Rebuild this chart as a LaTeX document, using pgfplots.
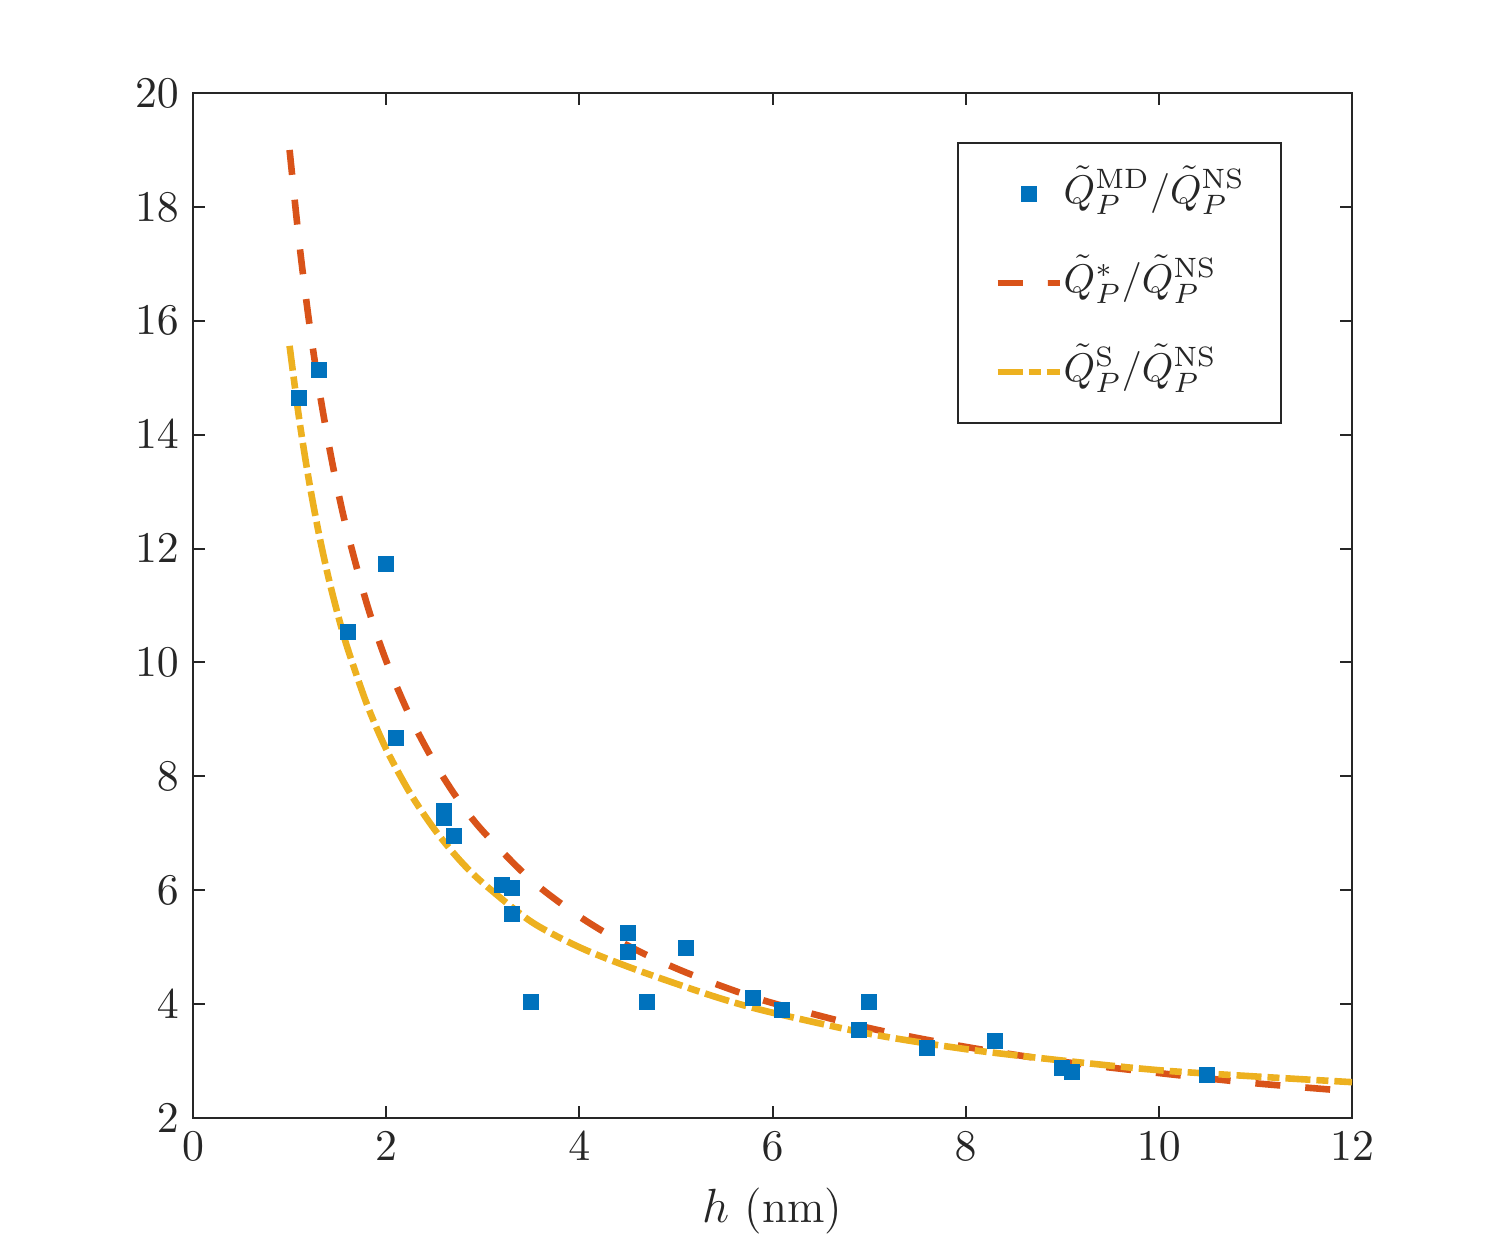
\documentclass[border=0pt]{standalone}
\usepackage{pgfplots}
\pgfplotsset{compat=1.18}
\definecolor{mblue}{rgb}{0,0.447,0.741}
\definecolor{mred}{rgb}{0.85,0.325,0.098}
\definecolor{myellow}{rgb}{0.929,0.694,0.125}
\definecolor{axgray}{rgb}{0.15,0.15,0.15}
\begin{document}
\begin{tikzpicture}
\useasboundingbox (-48.25pt,-35pt) rectangle (325.25pt,279.5pt);
\begin{axis}[
  scale only axis, width=289.75pt, height=256.25pt,
  xmin=0, xmax=12, ymin=2, ymax=20,
  xtick={0,2,...,12}, ytick={2,4,...,20},
  tick align=inside, major tick length=3pt,
  axis line style={axgray, line width=0.5pt},
  every tick/.style={axgray, line width=0.5pt},
  tick label style={font=\fontsize{11}{13}\selectfont, text=axgray},
  label style={font=\fontsize{11.5}{14}\selectfont, text=axgray},
  xlabel={$h$ (nm)},
  legend cell align=left,
  legend image code/.code={\draw[mark repeat=2,mark phase=2] plot coordinates {(0cm,0cm) (0.275cm,0cm) (0.55cm,0cm)};},
  legend style={at={(rel axis cs:0.9396,0.9522)}, anchor=north east,
    draw=axgray, line width=0.5pt, inner xsep=9pt, inner ysep=5pt, row sep=6.75pt,
    nodes={text height=8pt, text depth=3.5pt, inner xsep=0pt},
    font=\fontsize{9.6}{11}\selectfont, text=axgray},
]
\addplot[only marks, mark=square*, mark size=1.8pt, mblue, mark options={fill=mblue, draw=mblue}] coordinates {
 (1.1,14.64) (1.3,15.13) (1.6,10.54) (2.0,11.73) (2.1,8.67)
 (2.6,7.40) (2.6,7.27) (2.7,6.95) (3.2,6.09) (3.3,6.04) (3.3,5.58)
 (3.5,4.04) (4.5,5.25) (4.5,4.92) (4.7,4.04) (5.1,4.99) (5.8,4.11)
 (6.1,3.90) (6.9,3.55) (7.0,4.04) (7.6,3.23) (8.3,3.35) (9.0,2.88)
 (9.1,2.81) (10.5,2.75)
};
\addlegendentry{$\tilde{Q}_P^{\mathrm{MD}}/\tilde{Q}_P^{\mathrm{NS}}$}
\addplot[mred, line width=1.65pt, line cap=butt, dash pattern=on 6.25pt off 6.25pt, smooth] coordinates {
 (1.0,19.00) (1.1,17.37) (1.2,16.01) (1.3,14.86) (1.4,13.88) (1.5,13.02)
 (1.6,12.28) (1.8,11.03) (2.0,10.03) (2.25,9.04) (2.5,8.24) (2.75,7.58)
 (3.0,7.04) (3.5,6.18) (4.0,5.54) (4.5,5.03) (5.0,4.63) (5.5,4.30)
 (6.0,4.02) (7.0,3.58) (8.0,3.25) (9.0,2.99) (10.0,2.79) (11.0,2.61) (12.0,2.47)
};
\addlegendentry{$\tilde{Q}_P^{*}/\tilde{Q}_P^{\mathrm{NS}}$}
\addplot[myellow, line width=1.65pt, line cap=butt, dash pattern=on 6.25pt off 1.5pt on 3pt off 1.5pt, smooth] coordinates {
 (1.0,15.56) (1.1,14.27) (1.2,13.20) (1.3,12.29) (1.4,11.51) (1.5,10.84)
 (1.6,10.25) (1.8,9.27) (2.0,8.48) (2.25,7.70) (2.5,7.07) (2.75,6.55)
 (3.0,6.13) (3.5,5.45) (4.0,5.00) (4.5,4.66) (5.0,4.36) (5.5,4.08)
 (6.0,3.85) (7.0,3.48) (8.0,3.21) (9.0,3.01) (10.0,2.84) (11.0,2.73) (12.0,2.63)
};
\addlegendentry{$\tilde{Q}_P^{\mathrm{S}}/\tilde{Q}_P^{\mathrm{NS}}$}
\end{axis}
\end{tikzpicture}
\end{document}
